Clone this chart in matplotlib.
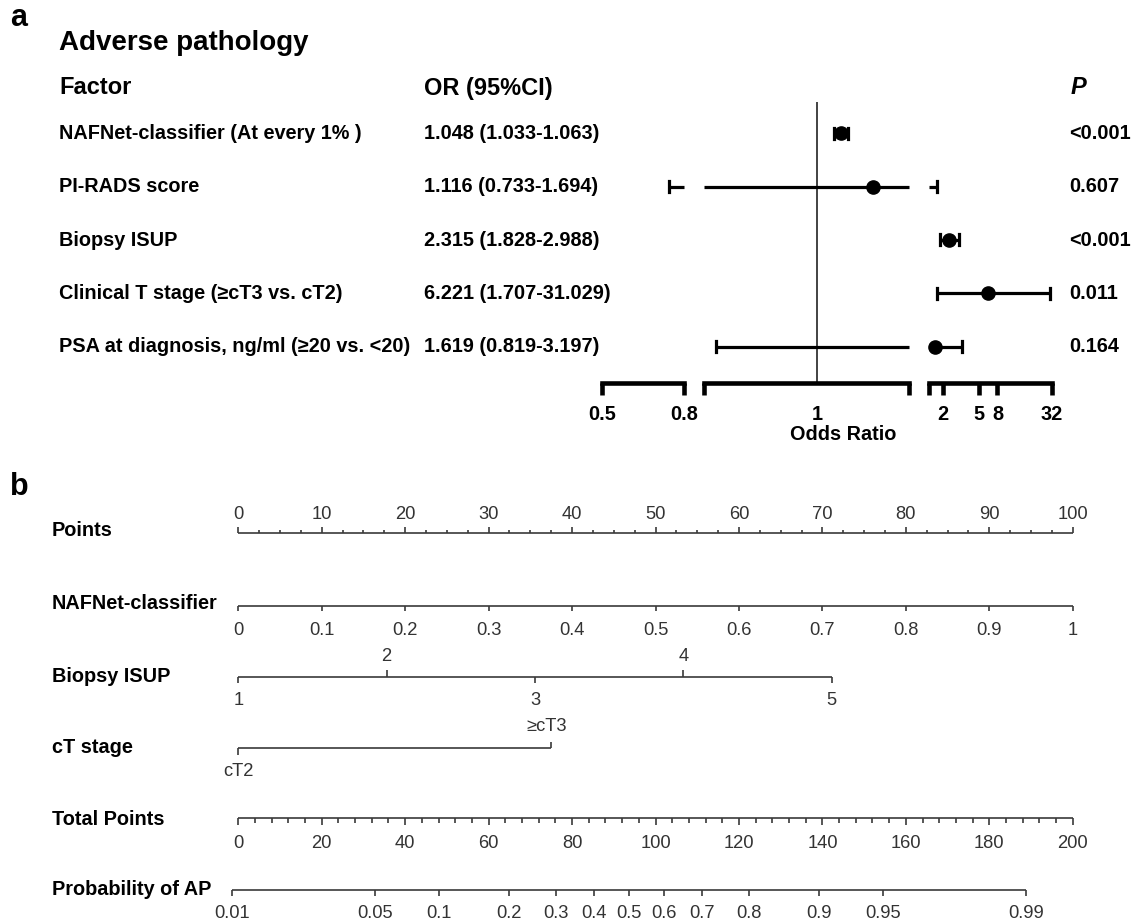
import numpy as np
import matplotlib
matplotlib.use("Agg")
import matplotlib.pyplot as plt
from matplotlib.ticker import NullLocator, FixedLocator, FixedFormatter

plt.rcParams['font.family'] = ['Liberation Sans', 'DejaVu Sans']

# ---------------- data: forest plot ----------------
factors = ["NAFNet-classifier (At every 1% )", "PI-RADS score", "Biopsy ISUP",
           "Clinical T stage (\u2265cT3 vs. cT2)", "PSA at diagnosis, ng/ml (\u226520 vs. <20)"]
or_vals = [1.048, 1.116, 2.315, 6.221, 1.619]
ci_low = [1.033, 0.733, 1.828, 1.707, 0.819]
ci_high = [1.063, 1.694, 2.988, 31.029, 3.197]
p_vals = ["<0.001", "0.607", "<0.001", "0.011", "0.164"]
or_text = ["1.048 (1.033-1.063)", "1.116 (0.733-1.694)", "2.315 (1.828-2.988)",
           "6.221 (1.707-31.029)", "1.619 (0.819-3.197)"]
segments = [(0.5, 0.8), (0.8, 1.2), (1.4, 32)]
seg_ticks = [[0.5, 0.8], [0.8, 1, 1.2], [1.4, 2, 5, 8, 32]]
seg_ticklabels = [["0.5", "0.8"], ["", "1", ""], ["", "2", "5", "8", "32"]]

# ---------------- data: nomogram ----------------
points_ticks = list(range(0, 101, 10))
nafnet_vals = [0, 0.1, 0.2, 0.3, 0.4, 0.5, 0.6, 0.7, 0.8, 0.9, 1]
nafnet_max_points = 100.0
isup_levels = [1, 2, 3, 4, 5]
isup_points_per_level = 17.78
ct_levels = ["cT2", "\u2265cT3"]
ct_points = [0.0, 37.44]
total_ticks = list(range(0, 201, 20))
prob_ticks = [0.01, 0.05, 0.1, 0.2, 0.3, 0.4, 0.5, 0.6, 0.7, 0.8, 0.9, 0.95, 0.99]
prob_labels = ["0.01", "0.05", "0.1", "0.2", "0.3", "0.4", "0.5", "0.6", "0.7", "0.8", "0.9", "0.95", "0.99"]
lp_intercept = -4.526
lp_slope = 0.04833

W, H = 1134, 922
fig = plt.figure(figsize=(W / 100, H / 100), dpi=100)

# overlay axes in pixel coordinates for text
axt = fig.add_axes([0, 0, 1, 1])
axt.set_xlim(0, W)
axt.set_ylim(H, 0)
axt.axis('off')

# ---------------- panel a ----------------
axt.text(10, 18, "a", fontsize=22, fontweight='bold', va='center', ha='left')
axt.text(59, 43, "Adverse pathology", fontsize=20, fontweight='bold', va='center', ha='left')
axt.text(59, 88, "Factor", fontsize=17, fontweight='bold', va='center', ha='left')
axt.text(424, 88, "OR (95%CI)", fontsize=17, fontweight='bold', va='center', ha='left')
axt.text(1071, 88, "P", fontsize=17, fontweight='bold', style='italic', va='center', ha='left')

row_y0, row_dy = 133.3, 53.35
for i in range(len(factors)):
    y = row_y0 + i * row_dy
    axt.text(59, y, factors[i], fontsize=14.3, fontweight='bold', va='center', ha='left')
    axt.text(424, y, or_text[i], fontsize=14.3, fontweight='bold', va='center', ha='left')
    axt.text(1069, y, p_vals[i], fontsize=14.3, fontweight='bold', va='center', ha='left')

seg_px = [(602.3, 684.0), (704.3, 909.3), (929.3, 1051.7)]
ax_top, ax_bot = 101.7, 382.7
ylo = (ax_bot - row_y0) / row_dy
yhi = (ax_top - row_y0) / row_dy
cap = 5.5 / row_dy
for (s0, s1), (x0, x1), tks, tls in zip(segments, seg_px, seg_ticks, seg_ticklabels):
    ax = fig.add_axes([x0 / W, 1 - ax_bot / H, (x1 - x0) / W, (ax_bot - ax_top) / H])
    ax.set_xscale('log')
    ax.set_xlim(s0, s1)
    ax.set_ylim(ylo, yhi)
    ax.patch.set_alpha(0)
    for sp in ['top', 'left', 'right']:
        ax.spines[sp].set_visible(False)
    ax.spines['bottom'].set_linewidth(3.3)
    ax.spines['bottom'].set_capstyle('projecting')
    ax.xaxis.set_major_locator(FixedLocator(tks))
    ax.xaxis.set_major_formatter(FixedFormatter(tls))
    ax.xaxis.set_minor_locator(NullLocator())
    ax.tick_params(axis='x', length=8.5, width=3.3, labelsize=14.3, pad=7.5)
    for lab in ax.get_xticklabels():
        lab.set_fontweight('bold')
    ax.set_yticks([])
    if s0 <= 1 <= s1:
        ticks = ax.xaxis.get_major_ticks()
        ticks[1].tick1line.set_visible(False)
        ax.axvline(1, color='#222222', lw=1.2, zorder=1)
    for i in range(len(or_vals)):
        lo, hi = ci_low[i], ci_high[i]
        a, b = max(lo, s0), min(hi, s1)
        if a < b:
            ax.plot([a, b], [i, i], color='black', lw=2.3, solid_capstyle='butt', clip_on=False)
        if s0 <= lo <= s1:
            ax.plot([lo, lo], [i - cap, i + cap], color='black', lw=2.3, clip_on=False)
        if s0 <= hi <= s1:
            ax.plot([hi, hi], [i - cap, i + cap], color='black', lw=2.3, clip_on=False)
        if s0 <= or_vals[i] <= s1:
            ax.plot([or_vals[i]], [i], 'o', color='black', ms=9.5, clip_on=False, zorder=5)

axt.text(843.6, 434, "Odds Ratio", fontsize=14.3, fontweight='bold', va='center', ha='center')

# ---------------- panel b: nomogram ----------------
axt.text(10, 487, "b", fontsize=22, fontweight='bold', va='center', ha='left')

px0, px100 = 238.3, 1072.7
ppp = (px100 - px0) / 100.0
axn = fig.add_axes([0, 0, 1, 1])
axn.set_xlim(-px0 / ppp, (W - px0) / ppp)
axn.set_ylim(H, 0)
axn.axis('off')
axn.patch.set_alpha(0)

lc = '#3a3a3a'
tc = '#333333'
lw = 1.2
lab_fs = 14.3
tick_fs = 13.2

def hline(y, x0, x1):
    axn.plot([x0, x1], [y, y], color=lc, lw=lw, solid_capstyle='butt')

def tick(x, y, length):
    axn.plot([x, x], [y, y + length], color=lc, lw=lw, solid_capstyle='butt')

def label(x, y, s):
    axn.text(x, y, s, fontsize=tick_fs, color=tc, va='center', ha='center')

rows_lab = [("Points", 530), ("NAFNet-classifier", 603), ("Biopsy ISUP", 676),
            ("cT stage", 747), ("Total Points", 819), ("Probability of AP", 889)]
for s, y in rows_lab:
    axt.text(52, y, s, fontsize=lab_fs, fontweight='bold', va='center', ha='left')

# Points
yP = 533.3
hline(yP, 0, 100)
for v in np.arange(0, 100.01, 2.5):
    tick(v, yP, -6.5 if v % 10 == 0 else -3.5)
for v in points_ticks:
    label(v, 514, str(v))

# NAFNet-classifier
yN = 606
hline(yN, 0, nafnet_max_points)
for v in nafnet_vals:
    x = v * nafnet_max_points
    tick(x, yN, 5)
    label(x, 630, "{:g}".format(v))

# Biopsy ISUP
yB = 676.7
bx = [(lv - 1) * isup_points_per_level for lv in isup_levels]
hline(yB, bx[0], bx[-1])
for lv, x in zip(isup_levels, bx):
    if lv % 2 == 1:
        tick(x, yB, 6.5)
        label(x, 700, str(lv))
    else:
        tick(x, yB, -6.5)
        label(x, 656.7, str(lv))

# cT stage
yC = 748.3
hline(yC, ct_points[0], ct_points[1])
tick(ct_points[0], yC, 6.5)
label(ct_points[0], 771, ct_levels[0])
tick(ct_points[1], yC, -6.5)
label(ct_points[1] - 0.5, 726.7, ct_levels[1])

# Total Points (0..200 mapped onto 0..100 scale)
yT = 818.3
hline(yT, 0, 100)
for v in range(0, 201, 4):
    tick(v / 2, yT, 6.5 if v % 20 == 0 else 4.5)
for v in total_ticks:
    label(v / 2, 843.3, str(v))

# Probability of AP
yR = 890
def prob_to_x(p):
    lp = np.log(p / (1 - p))
    return (lp - lp_intercept) / lp_slope / 2.0
hline(yR, prob_to_x(prob_ticks[0]), prob_to_x(prob_ticks[-1]))
for p, s in zip(prob_ticks, prob_labels):
    x = prob_to_x(p)
    tick(x, yR, 5.5)
    label(x, 913.3, s)

fig.savefig("out.png", dpi=100, facecolor='white')
